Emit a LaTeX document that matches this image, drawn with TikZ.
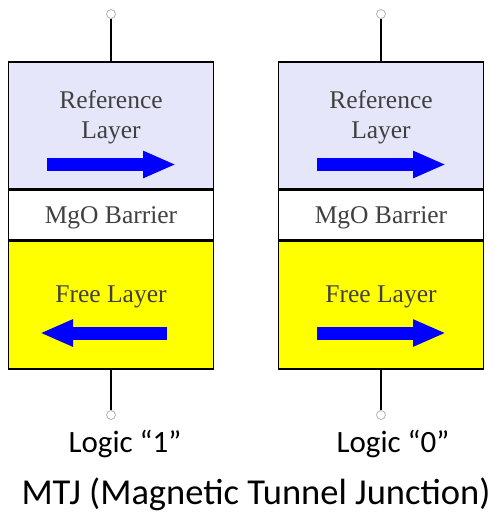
\documentclass[tikz,border=0pt]{standalone}
\usepackage{fontspec}
\setmainfont{Liberation Serif}
\newfontfamily\calfont{Carlito}
\usetikzlibrary{arrows.meta,positioning}

\definecolor{reflayer}{HTML}{E6E6FA}
\definecolor{labelgray}{HTML}{404040}
\definecolor{freelayer}{HTML}{FFFF00}

\tikzset{
  layer/.style={draw,line width=1.6pt,minimum width=205pt,inner sep=0pt},
  terminal/.style={circle,draw=gray!60,fill=white,line width=0.8pt,minimum size=9pt,inner sep=0pt},
  wire/.style={line width=1.6pt},
  spin/.style={blue,line width=13pt,-{Triangle[length=33pt,width=25pt]}},
  layertext/.style={text=labelgray,font=\fontsize{25.5}{30}\selectfont,align=center},
  logictext/.style={font=\calfont\fontsize{31}{36}\selectfont}
}

\begin{document}
\begin{tikzpicture}[x=1pt,y=-1pt]
      \useasboundingbox (0,0) rectangle (495,515);

      % left junction, logic 1
      \node[layer,fill=reflayer,minimum height=127pt] (ref1) at (111,125.5) {};
      \node[layer,fill=white,minimum height=49pt,below=0pt of ref1] (mgo1) {};
      \node[layer,fill=freelayer,minimum height=128pt,below=0pt of mgo1] (free1) {};
      \node[layertext] (reftext1) at (111,117.5) {Reference\\Layer};
      \node[layertext,yshift=-3pt] (mgotext1) at (mgo1) {MgO Barrier};
      \node[layertext] (freetext1) at (111,297) {Free Layer};
      \draw[spin] (47,164.5) -- (176,164.5);
      \draw[spin] (167,333) -- (40,333);
      \node[terminal] (top1) at (111,14) {};
      \node[terminal] (bot1) at (111,415) {};
      \draw[wire] (top1) -- (ref1);
      \draw[wire] (free1) -- (bot1);
      \node[logictext] (logic1) at (125,444) {Logic “1”};

      % right junction, logic 0
      \node[layer,fill=reflayer,minimum height=127pt] (ref0) at (381,125.5) {};
      \node[layer,fill=white,minimum height=49pt,below=0pt of ref0] (mgo0) {};
      \node[layer,fill=freelayer,minimum height=128pt,below=0pt of mgo0] (free0) {};
      \node[layertext] (reftext0) at (381,117.5) {Reference\\Layer};
      \node[layertext,yshift=-3pt] (mgotext0) at (mgo0) {MgO Barrier};
      \node[layertext] (freetext0) at (381,297) {Free Layer};
      \draw[spin] (317,164.5) -- (446,164.5);
      \draw[spin] (317,333) -- (446,333);
      \node[terminal] (top0) at (381,14) {};
      \node[terminal] (bot0) at (381,415) {};
      \draw[wire] (top0) -- (ref0);
      \draw[wire] (free0) -- (bot0);
      \node[logictext] (logic0) at (393,444) {Logic “0”};

      \node[logictext,inner sep=0pt,font=\calfont\fontsize{36.5}{42}\selectfont] (mtj) at (256,494) {MTJ (Magnetic Tunnel Junction)};
\end{tikzpicture}
\end{document}
